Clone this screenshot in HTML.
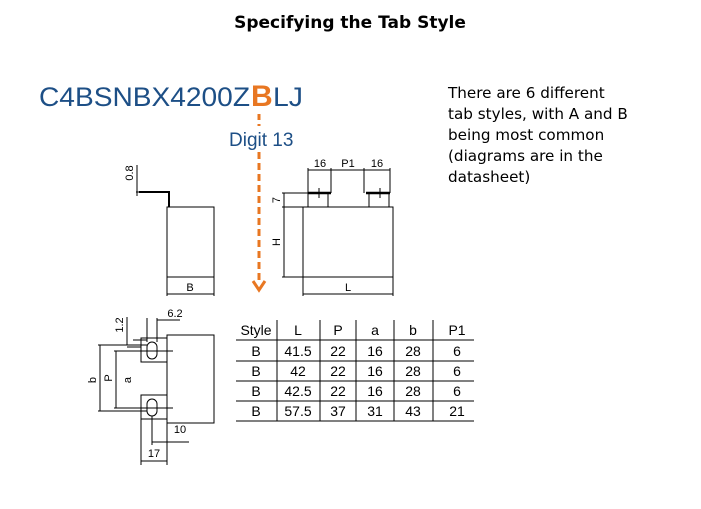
<!DOCTYPE html>
<html><head><style>
body{margin:0;background:#fff;}
svg{display:block;font-family:"Liberation Sans",Arial,sans-serif;}
</style></head><body>
<svg width="701" height="509" viewBox="0 0 701 509" xmlns="http://www.w3.org/2000/svg">
<text x="350" y="28" text-anchor="middle" font-weight="bold" font-size="17" font-family="'DejaVu Sans',Verdana,sans-serif" fill="#000">Specifying the Tab Style</text>
<text x="39" y="106" font-size="27" fill="#1d4f86" textLength="211" lengthAdjust="spacingAndGlyphs">C4BSNBX4200Z</text>
<text x="251" y="106" font-size="30" font-weight="bold" fill="#e87722">B</text>
<text x="273" y="106" font-size="27" fill="#1d4f86" textLength="30" lengthAdjust="spacingAndGlyphs">LJ</text>
<text x="229" y="146" font-size="19" fill="#1d4f86">Digit 13</text>
<line x1="259" y1="114" x2="259" y2="126" stroke="#e87722" stroke-width="3" stroke-dasharray="6,4"/>
<line x1="259" y1="152" x2="259" y2="284" stroke="#e87722" stroke-width="3" stroke-dasharray="7,4"/>
<path d="M253 281 L259 290 L265 281" fill="none" stroke="#e87722" stroke-width="3"/>
<g font-family="'DejaVu Sans',Verdana,sans-serif" font-size="15.2" fill="#000">
<text x="448" y="98">There are 6 different</text>
<text x="448" y="119">tab styles, with A and B</text>
<text x="448" y="140">being most common</text>
<text x="448" y="161">(diagrams are in the</text>
<text x="448" y="182">datasheet)</text>
</g>
<g stroke="#000" fill="none" stroke-width="1">
<rect x="167" y="207" width="47" height="70"/>
<path d="M139 192 H169 V207" stroke-width="2"/>
<line x1="137" y1="165" x2="137" y2="196"/>
<line x1="136" y1="192" x2="142" y2="192"/>
<line x1="167" y1="277" x2="167" y2="296"/><line x1="214" y1="277" x2="214" y2="296"/>
<line x1="167" y1="294" x2="214" y2="294"/>
<rect x="303" y="207" width="90" height="70"/>
<rect x="308" y="193" width="20" height="14"/>
<rect x="369" y="193" width="20" height="14"/>
<line x1="308" y1="193" x2="331" y2="193" stroke-width="2.5"/>
<line x1="366" y1="193" x2="390" y2="193" stroke-width="2.5"/>
<line x1="319" y1="188" x2="319" y2="198"/><line x1="380" y1="188" x2="380" y2="198"/>
<line x1="308" y1="170" x2="390" y2="170"/>
<line x1="308" y1="168" x2="308" y2="193"/><line x1="331" y1="168" x2="331" y2="193"/>
<line x1="364" y1="168" x2="364" y2="193"/><line x1="390" y1="168" x2="390" y2="193"/>
<line x1="284" y1="193" x2="284" y2="277"/>
<line x1="282" y1="193" x2="308" y2="193"/><line x1="282" y1="207" x2="303" y2="207"/><line x1="282" y1="277" x2="303" y2="277"/>
<line x1="303" y1="277" x2="303" y2="296"/><line x1="393" y1="277" x2="393" y2="296"/>
<line x1="303" y1="294" x2="393" y2="294"/>
<rect x="167" y="335" width="47" height="88"/>
<rect x="141" y="338" width="26" height="24"/>
<rect x="141" y="395" width="26" height="24"/>
<rect x="147" y="342" width="10" height="17" rx="5"/>
<rect x="147" y="399" width="10" height="17" rx="5"/>
<line x1="124" y1="351" x2="173" y2="351"/><line x1="124" y1="408" x2="173" y2="408"/>
<line x1="98" y1="345" x2="147" y2="345"/><line x1="98" y1="411" x2="147" y2="411"/>
<line x1="100" y1="345" x2="100" y2="411"/>
<line x1="116" y1="351" x2="116" y2="408"/><line x1="114" y1="351" x2="135" y2="351"/><line x1="114" y1="408" x2="135" y2="408"/>
<line x1="133" y1="340" x2="147" y2="340"/><line x1="127" y1="347" x2="141" y2="347"/>
<line x1="127" y1="317" x2="127" y2="345"/>
<line x1="147" y1="318" x2="147" y2="342"/><line x1="157" y1="318" x2="157" y2="342"/>
<line x1="157" y1="320" x2="180" y2="320"/>
<line x1="152" y1="416" x2="152" y2="445"/>
<line x1="152" y1="442" x2="189" y2="442"/>
<line x1="141" y1="419" x2="141" y2="465"/><line x1="167" y1="423" x2="167" y2="465"/>
<line x1="141" y1="461" x2="167" y2="461"/>
<line x1="236" y1="340" x2="474" y2="340"/>
<line x1="236" y1="361" x2="474" y2="361"/>
<line x1="236" y1="381" x2="474" y2="381"/>
<line x1="236" y1="401" x2="474" y2="401"/>
<line x1="236" y1="421" x2="474" y2="421"/>
<line x1="277" y1="320" x2="277" y2="421"/>
<line x1="320" y1="320" x2="320" y2="421"/>
<line x1="356" y1="320" x2="356" y2="421"/>
<line x1="394" y1="320" x2="394" y2="421"/>
<line x1="433" y1="320" x2="433" y2="421"/>
</g>
<g font-size="11" fill="#000" text-anchor="middle">
<text x="133" y="173" transform="rotate(-90 133 173)">0.8</text>
<text x="190" y="291">B</text>
<text x="320" y="167">16</text>
<text x="348" y="167">P1</text>
<text x="377" y="167">16</text>
<text x="280" y="200" transform="rotate(-90 280 200)">7</text>
<text x="280" y="242" transform="rotate(-90 280 242)">H</text>
<text x="348" y="291">L</text>
<text x="123" y="325" transform="rotate(-90 123 325)">1.2</text>
<text x="175" y="317">6.2</text>
<text x="96" y="380" transform="rotate(-90 96 380)">b</text>
<text x="112" y="378" transform="rotate(-90 112 378)">P</text>
<text x="131" y="380" transform="rotate(-90 131 380)">a</text>
<text x="180" y="433">10</text>
<text x="154" y="457">17</text>
</g>
<g font-size="14" fill="#000" text-anchor="middle">
<text x="256" y="335">Style</text><text x="298" y="335">L</text><text x="338" y="335">P</text><text x="375" y="335">a</text><text x="413" y="335">b</text><text x="457" y="335">P1</text>
<text x="256" y="356">B</text><text x="298" y="356">41.5</text><text x="338" y="356">22</text><text x="375" y="356">16</text><text x="413" y="356">28</text><text x="457" y="356">6</text>
<text x="256" y="376">B</text><text x="298" y="376">42</text><text x="338" y="376">22</text><text x="375" y="376">16</text><text x="413" y="376">28</text><text x="457" y="376">6</text>
<text x="256" y="396">B</text><text x="298" y="396">42.5</text><text x="338" y="396">22</text><text x="375" y="396">16</text><text x="413" y="396">28</text><text x="457" y="396">6</text>
<text x="256" y="416">B</text><text x="298" y="416">57.5</text><text x="338" y="416">37</text><text x="375" y="416">31</text><text x="413" y="416">43</text><text x="457" y="416">21</text>
</g>
</svg>
</body></html>
